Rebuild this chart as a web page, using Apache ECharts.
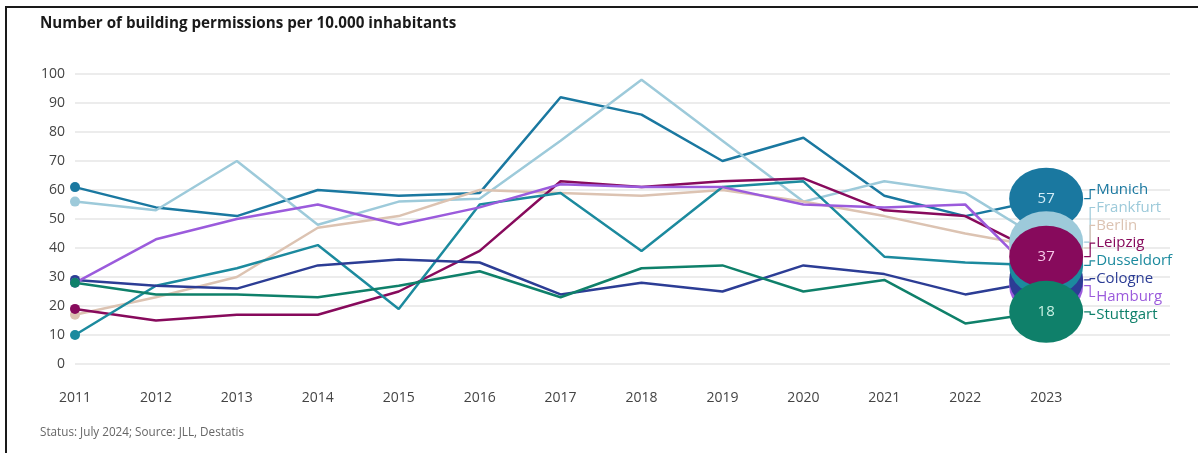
<!DOCTYPE html>
<html>
<head>
<meta charset="utf-8">
<script src="https://cdn.jsdelivr.net/npm/echarts@6/dist/echarts.min.js"></script>
<style>
html,body{margin:0;padding:0;background:#fff;}
#frame{position:absolute;left:5px;top:6px;width:1193px;height:447px;border-top:2px solid #1a1a1a;border-left:2px solid #1a1a1a;box-sizing:border-box;}
#chart{position:absolute;left:0;top:0;width:1198px;height:453px;}
</style>
</head>
<body>
<div id="frame"></div>
<div id="chart"></div>
<script>
const years = [2011,2012,2013,2014,2015,2016,2017,2018,2019,2020,2021,2022,2023];
const yTicks = [0,10,20,30,40,50,60,70,80,90,100];

const munich     = [61,54,51,60,58,59,92,86,70,78,58,51,57];
const frankfurt  = [56,53,70,48,56,57,77,98,77,56,63,59,42];
const berlin     = [17,23,30,47,51,60,59,58,60,56,51,45,40];
const leipzig    = [19,15,17,17,25,39,63,61,63,64,53,51,37];
const dusseldorf = [10,27,33,41,19,55,59,39,61,63,37,35,34];
const cologne    = [29,27,26,34,36,35,24,28,25,34,31,24,29];
const hamburg    = [28,43,50,55,48,54,62,61,61,55,54,55,27];
const stuttgart  = [28,24,24,23,27,32,23,33,34,25,29,14,18];

const cities = ['Munich','Frankfurt','Berlin','Leipzig','Dusseldorf','Cologne','Hamburg','Stuttgart'];
const cityValues = {Munich:munich, Frankfurt:frankfurt, Berlin:berlin, Leipzig:leipzig, Dusseldorf:dusseldorf, Cologne:cologne, Hamburg:hamburg, Stuttgart:stuttgart};
const cityColors = {Munich:'#1a78a0', Frankfurt:'#9dcada', Berlin:'#dcc3b2', Leipzig:'#870a5c', Dusseldorf:'#1c8a9e', Cologne:'#2c3d95', Hamburg:'#9b5bdc', Stuttgart:'#0f806a'};
const valueTextColors = {Munich:'#d2ecf7', Leipzig:'#f6c8e8', Stuttgart:'#c8f0e3'};
// drawing order of end circles (later = on top)
const circleOrder = ['Berlin','Munich','Frankfurt','Hamburg','Cologne','Dusseldorf','Leipzig','Stuttgart'];

const font = "'Open Sans', 'Noto Sans', sans-serif";
const lastIdx = years.length - 1;
const lastYear = years[lastIdx];
const lastVal = function(c){ return cityValues[c][lastIdx]; };
const ranked = cities.slice().sort(function(a,b){ return lastVal(b) - lastVal(a); });
const LABEL_STEP = 17.8;
// label centre y: stacked downward from the highest end value
function labelY(c, toPixel){
  const top = toPixel([lastYear, lastVal(ranked[0])])[1] - 9;
  return top + ranked.indexOf(c) * LABEL_STEP;
}

let chart;
const series = [];

cities.forEach(function(c){
  const vals = cityValues[c];
  series.push({
    type:'line', name:c, z:2,
    data: years.map(function(y,i){ return [y, vals[i]]; }),
    symbol:'circle', showAllSymbol:true,
    symbolSize: function(v,p){ return p.dataIndex === 0 ? 10 : 0; },
    lineStyle:{width:2.5, color:cityColors[c]},
    itemStyle:{color:cityColors[c]},
    endLabel:{show:true, formatter:c, color:cityColors[c], fontSize:15, fontFamily:font, distance:50, lineHeight:18},
    labelLayout:function(params){
      return {y: labelY(c, function(p){ return chart.convertToPixel({gridIndex:0}, p); })};
    },
    emphasis:{disabled:true},
    silent:true
  });
});

circleOrder.forEach(function(c, k){
  series.push({
    type:'scatter', name:c + ' 2023', z:3 + k,
    data:[[lastYear, lastVal(c)]],
    symbol:'circle', symbolSize:[74,62],
    itemStyle:{color:cityColors[c], opacity:1},
    label:{show: !!valueTextColors[c], position:'inside', color:valueTextColors[c] || '#fff',
           fontSize:15, fontFamily:font, formatter:function(p){ return p.value[1]; }},
    emphasis:{disabled:true},
    silent:true
  });
});

// small bracket connectors between end value and its label
series.push({
  type:'custom', z:20, silent:true,
  data: cities.map(function(c){ return [lastYear, lastVal(c)]; }),
  renderItem:function(params, api){
    const c = cities[params.dataIndex];
    const p = api.coord([api.value(0), api.value(1)]);
    const yl = labelY(c, function(v){ return api.coord(v); });
    return {
      type:'polyline',
      shape:{points:[[p[0]+38, p[1]], [p[0]+44, p[1]], [p[0]+44, yl], [p[0]+49, yl]]},
      style:{stroke:cityColors[c], lineWidth:1.2, fill:null}
    };
  }
});

chart = echarts.init(document.getElementById('chart'), null, {renderer:'canvas'});
chart.setOption({
  animation:false,
  backgroundColor:'transparent',
  title:[
    {text:'Number of building permissions per 10.000 inhabitants', left:35, top:11,
     textStyle:{fontFamily:font, fontSize:15.2, fontWeight:'bold', color:'#1a1a1a'}},
    {text:'Status: July 2024; Source: JLL, Destatis', left:35, top:422,
     textStyle:{fontFamily:font, fontSize:11.7, fontWeight:'normal', color:'#666'}}
  ],
  grid:{left:75, right:28, top:74, bottom:89, containLabel:false},
  xAxis:{
    type:'value', min:years[0], max:2024.53, interval:1,
    axisLine:{show:false}, axisTick:{show:false}, splitLine:{show:false},
    axisLabel:{color:'#444', fontSize:14, fontFamily:font, margin:27, showMaxLabel:false,
      formatter:function(v){ return years.indexOf(v) >= 0 ? String(v) : ''; }}
  },
  yAxis:{
    type:'value', min:yTicks[0], max:yTicks[yTicks.length-1], interval:10,
    axisLine:{show:false}, axisTick:{show:false},
    splitLine:{lineStyle:{color:'#e6e6e6', width:1.5}},
    axisLabel:{color:'#444', fontSize:14, fontFamily:font, margin:10}
  },
  series:series
});
</script>
</body>
</html>
